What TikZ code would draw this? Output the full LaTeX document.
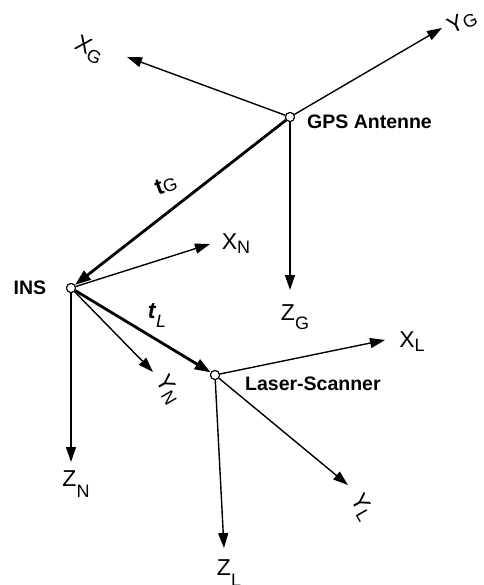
\documentclass[tikz,border=0pt]{standalone}
\usepackage{fontspec}
\setmainfont{Liberation Sans}
\usetikzlibrary{arrows.meta}
\newcommand{\axl}[3][5pt]{#2\raisebox{-#1}{\fontsize{18}{18}\selectfont #3}}
\begin{document}
\begin{tikzpicture}[x=1pt,y=-1pt,
  axis/.style={line width=1.4pt,-{Triangle[length=15pt,width=10pt]}},
  vec/.style={line width=2.8pt,-{Triangle[length=16pt,width=11pt]}},
  opoint/.style={circle,draw,fill=white,line width=1pt,minimum size=9pt,inner sep=0pt},
  lab/.style={font=\fontsize{23}{23}\selectfont,inner sep=0pt},
  nmlab/.style={font=\fontsize{19.5}{19.5}\selectfont\bfseries,inner sep=0pt}]
\useasboundingbox (0,0) rectangle (483,585);
% origins
\node[opoint] (gps) at (290,117) {};
\node[opoint] (ins) at (71,288) {};
\node[opoint] (las) at (215,375) {};
% axis tips
\coordinate (xg) at (127,57);
\coordinate (yg) at (442,28);
\coordinate (zg) at (290,290);
\coordinate (xn) at (210,244);
\coordinate (yn) at (153,372);
\coordinate (zn) at (71,462);
\coordinate (xl) at (385,340);
\coordinate (yl) at (348,485);
\coordinate (zl) at (224,548);
% axes
\draw[axis] (gps) -- (xg);
\draw[axis] (gps) -- (yg);
\draw[axis] (gps) -- (zg);
\draw[axis] (ins) -- (xn);
\draw[axis] (ins) -- (yn);
\draw[axis] (ins) -- (zn);
\draw[axis] (las) -- (xl);
\draw[axis] (las) -- (yl);
\draw[axis] (las) -- (zl);
% lever arms
\draw[vec] (gps) -- (ins);
\draw[vec] (ins) -- (las);
% redraw points on top
\node[opoint] at (gps) {};
\node[opoint] at (ins) {};
\node[opoint] at (las) {};
% names
\node[nmlab,anchor=west] (gpsl) at (307,122) {GPS Antenne};
\node[nmlab] (insl) at (30,288) {INS};
\node[nmlab,anchor=west] (lasl) at (245,384) {Laser-Scanner};
% axis labels
\node[lab,rotate=-25] (xgl) at (89,50) {\axl{X}{G}};
\node[lab,rotate=25] (ygl) at (462,22) {\axl[2pt]{Y}{G}};
\node[lab] (zgl) at (295,317) {\axl[9pt]{Z}{G}};
\node[lab,rotate=20] (tgl) at (166,185) {\axl[1pt]{\textbf{t}}{G}};
\node[lab] (xnl) at (236,244) {\axl[4pt]{X}{N}};
\node[lab,rotate=-60] (ynl) at (168,390) {\axl[3pt]{Y}{N}};
\node[lab] (znl) at (76,484) {\axl[11pt]{Z}{N}};
\node[lab] (tll) at (157,315) {\axl[9pt]{\textbf{\textit{t}}}{\textit{L}}};
\node[lab] (xll) at (412,342) {\axl[4pt]{X}{L}};
\node[lab,rotate=-60] (yll) at (362,507) {\axl[3pt]{Y}{L}};
\node[lab] (zll) at (229,573) {\axl[11pt]{Z}{L}};
\end{tikzpicture}
\end{document}
